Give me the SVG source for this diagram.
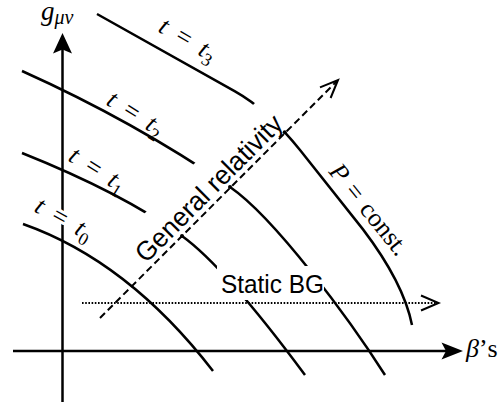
<svg xmlns="http://www.w3.org/2000/svg" width="500" height="409" viewBox="0 0 500 409">
<style>
.ln{fill:none;stroke:#000;stroke-width:2.5}
.dash{fill:none;stroke:#000;stroke-width:2;stroke-dasharray:7 4}
.dotl{fill:none;stroke:#000;stroke-width:2;stroke-dasharray:1.6 1.6}
.head{fill:none;stroke:#000;stroke-width:2;stroke-linejoin:miter}
.fillhead{fill:#000;stroke:none}
.m{font-family:"Liberation Serif","Times New Roman",serif;font-size:26px;fill:#000}
.i{font-style:italic}
.sub{font-size:18px}
.s{font-family:"Liberation Sans",Arial,sans-serif;fill:#000}
.halo{stroke:#fff;stroke-width:6;stroke-linejoin:round;paint-order:stroke}
</style>
<defs>
<mask id="gap" maskUnits="userSpaceOnUse" x="0" y="0" width="500" height="409">
<rect x="0" y="0" width="500" height="409" fill="#fff"/>
<polygon points="117.5,240.5 261.5,96.5 291.5,126.5 147.5,270.5" fill="#000"/>
<rect x="217" y="266" width="107" height="34" fill="#000"/>
</mask>
</defs>
<rect width="500" height="409" fill="#fff"/>

<g id="axes">
<line class="ln" x1="62.5" y1="402" x2="62.5" y2="48"/>
<polygon class="fillhead" points="62.5,33 72,53.5 62.5,49.5 53,53.5"/>
<line class="ln" x1="13" y1="351" x2="447" y2="351"/>
<polygon class="fillhead" points="463,351 441.5,342.5 446,351 441.5,359.5"/>
</g>

<g id="connectors">
<g mask="url(#gap)">
<path id="curve-t0" class="ln" d="M23,224 Q128,261 213,371"/>
<path id="curve-t1" class="ln" d="M22,153 Q122.6,193.2 182,236 Q225,267 305,375"/>
<path id="curve-t2" class="ln" d="M22,71 C100,106 170,146 230,187 C275,218 350,320 385,375"/>
<path id="curve-t3" class="ln" d="M97,14 L235,91.3 Q268,109.8 300,150 L363,229.4 Q403.5,282.7 412,325"/>
</g>
<circle cx="182" cy="236" r="2"/>
<circle cx="230" cy="187" r="2"/>
<circle cx="284.7" cy="132.2" r="2"/>
<g id="general-relativity-arrow">
<line class="dash" x1="100" y1="318" x2="336" y2="82"/>
<polyline class="head" points="320,87.4 338,80 330.6,98"/>
</g>
<g id="static-bg-arrow">
<line class="dotl" x1="82" y1="303" x2="437" y2="303"/>
<polyline class="head" points="421,295.5 438.5,303 421,310.5"/>
</g>
</g>

<g id="label-g">
<text class="m" x="41" y="20"><tspan class="i" font-size="27">g</tspan><tspan class="i" font-size="20" dy="4">μν</tspan></text>
</g>
<g id="label-beta">
<text class="m" x="466" y="357" font-size="24"><tspan class="i">β</tspan>’s</text>
</g>
<g id="label-t3">
<text class="m" transform="translate(157,31) rotate(30)"><tspan class="i">t</tspan><tspan dx="12">=</tspan><tspan class="i" dx="12">t</tspan><tspan class="sub" dy="6">3</tspan></text>
</g>
<g id="label-t2">
<text class="m" transform="translate(105,104) rotate(32)"><tspan class="i">t</tspan><tspan dx="12">=</tspan><tspan class="i" dx="12">t</tspan><tspan class="sub" dy="6">2</tspan></text>
</g>
<g id="label-t1">
<text class="m" transform="translate(67,160) rotate(32)"><tspan class="i">t</tspan><tspan dx="12">=</tspan><tspan class="i" dx="12">t</tspan><tspan class="sub" dy="6">1</tspan></text>
</g>
<g id="label-t0">
<text class="m halo" transform="translate(33,211) rotate(29)"><tspan class="i">t</tspan><tspan dx="12">=</tspan><tspan class="i" dx="12">t</tspan><tspan class="sub" dy="6">0</tspan></text>
</g>
<g id="label-p">
<text class="m" transform="translate(328,172) rotate(51)"><tspan class="i">P</tspan><tspan dx="9">=</tspan><tspan dx="9">const.</tspan></text>
</g>
<g id="label-general-relativity">
<text class="s" font-size="27" textLength="196" lengthAdjust="spacingAndGlyphs" transform="translate(146,264) rotate(-45)">General relativity</text>
</g>
<g id="label-static-bg">
<text class="s" font-size="26" x="221" y="293" textLength="103" lengthAdjust="spacingAndGlyphs">Static BG</text>
</g>
</svg>
